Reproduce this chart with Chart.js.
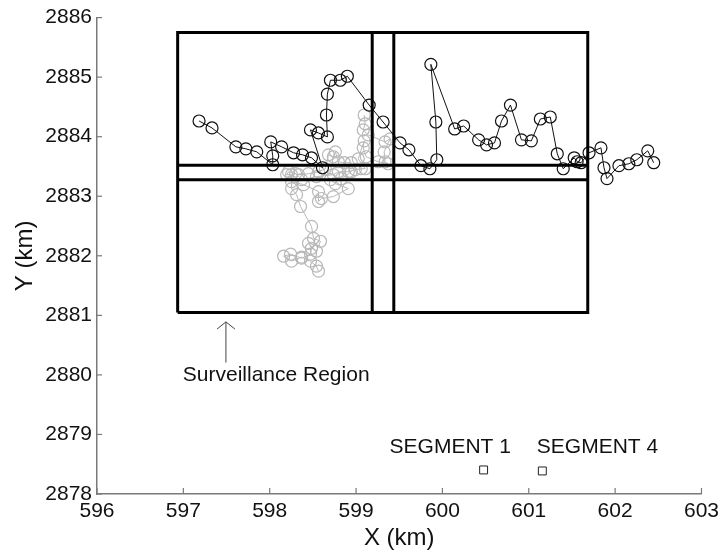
<!DOCTYPE html>
<html>
<head>
<meta charset="utf-8">
<script src="https://cdn.jsdelivr.net/npm/chart.js@4"></script>
<style>
  html, body { margin: 0; padding: 0; background: #fff; }
  #wrap { width: 724px; height: 553px; }
</style>
</head>
<body>
<div id="wrap"><canvas id="chart"></canvas></div>
<script>
// axes
const xTicks = [596, 597, 598, 599, 600, 601, 602, 603];
const yTicks = [2878, 2879, 2880, 2881, 2882, 2883, 2884, 2885, 2886];

// black track (km)
const blackX = [597.182, 597.332, 597.608, 597.724, 597.850, 598.035, 598.035, 598.012, 598.138, 598.276,
  598.380, 598.484, 598.611, 598.472, 598.564, 598.668, 598.657, 598.668, 598.703, 598.818,
  598.899, 599.152, 599.313, 599.509, 599.612, 599.751, 599.855, 599.935, 599.924, 599.866,
  600.142, 600.246, 600.419, 600.511, 600.603, 600.684, 600.788, 600.915, 601.030, 601.134,
  601.249, 601.330, 601.399, 601.526, 601.560, 601.606, 601.698, 601.836, 601.871, 601.906,
  602.044, 602.159, 602.251, 602.378, 602.447];
const blackY = [2884.264, 2884.147, 2883.830, 2883.796, 2883.746, 2883.529, 2883.679, 2883.913, 2883.830, 2883.730,
  2883.696, 2883.646, 2883.479, 2884.114, 2884.063, 2883.997, 2884.364, 2884.715, 2884.948, 2884.948,
  2885.015, 2884.531, 2884.247, 2883.896, 2883.780, 2883.513, 2883.462, 2883.613, 2884.247, 2885.215,
  2884.130, 2884.180, 2883.947, 2883.863, 2883.896, 2884.264, 2884.531, 2883.947, 2883.930, 2884.297,
  2884.331, 2883.713, 2883.462, 2883.646, 2883.579, 2883.563, 2883.730, 2883.813, 2883.479, 2883.296,
  2883.513, 2883.546, 2883.613, 2883.763, 2883.563];

// gray track (km)
const grayX = [599.094, 599.106, 599.083, 599.141, 599.336, 599.394, 599.325, 599.336, 599.371, 599.256,
  599.118, 599.083, 599.094, 599.025, 599.106, 599.060, 598.991, 598.910, 598.945, 598.864,
  598.795, 598.760, 598.737, 598.680, 598.645, 598.565, 598.449, 598.334, 598.219, 598.196,
  598.253, 598.300, 598.369, 598.541, 598.737, 598.795, 598.945, 598.829, 598.703, 598.760,
  598.910, 598.737, 598.599, 598.565, 598.565, 598.392, 598.253, 598.253, 598.311, 598.357,
  598.484, 598.507, 598.588, 598.541, 598.449, 598.484, 598.472, 598.369, 598.242, 598.161,
  598.253, 598.369, 598.472, 598.541, 598.565];
const grayY = [2884.364, 2884.214, 2884.114, 2884.030, 2883.913, 2883.963, 2883.746, 2883.579, 2883.546, 2883.579,
  2883.663, 2883.813, 2883.930, 2883.629, 2883.462, 2883.462, 2883.446, 2883.412, 2883.563, 2883.563,
  2883.579, 2883.746, 2883.663, 2883.696, 2883.462, 2883.412, 2883.379, 2883.362, 2883.412, 2883.362,
  2883.362, 2883.379, 2883.279, 2883.329, 2883.362, 2883.412, 2883.412, 2883.295, 2883.279, 2883.212,
  2883.129, 2882.995, 2882.962, 2882.912, 2883.078, 2883.195, 2883.245, 2883.129, 2883.028, 2882.828,
  2882.494, 2882.294, 2882.244, 2882.077, 2882.210, 2882.127, 2882.027, 2881.960, 2882.027, 2881.993,
  2881.910, 2881.977, 2881.910, 2881.826, 2881.743];

// surveillance region
const regionX = [596.934, 601.683];
const regionY = [2881.047, 2885.750];
const stripX = [599.187, 599.437];
const stripY = [2883.279, 2883.521];

// arrow and segment markers
const arrowX = [597.493, 597.493];
const arrowY = [2880.207, 2880.890];
const arrowHeadX = [597.39, 597.493, 597.597];
const arrowHeadY = [2880.77, 2880.890, 2880.77];
const segmentX = [600.477, 601.157];
const segmentY = [2878.404, 2878.387];

// text notes
const noteText = ['Surveillance Region', 'SEGMENT 1', 'SEGMENT 4'];
const noteX = [598.075, 600.091, 601.796];
const noteY = [2879.990, 2878.793, 2878.793];

const FONT = '"Liberation Sans", Arial, sans-serif';
const AXIS_COLOR = '#7a7a7a';

const pts = (xs, ys) => xs.map((v, i) => ({ x: v, y: ys[i] }));

function rectLine(data) {
  return {
    data: data, showLine: true, borderColor: '#000', borderWidth: 3,
    pointRadius: 0, fill: false, tension: 0
  };
}

// inner tick marks + free text
const overlay = {
  id: 'overlay',
  afterDraw(chart) {
    const { ctx, scales: { x, y } } = chart;
    ctx.save();
    ctx.strokeStyle = AXIS_COLOR;
    ctx.lineWidth = 1.2;
    xTicks.forEach(v => {
      const px = x.getPixelForValue(v);
      ctx.beginPath(); ctx.moveTo(px, y.bottom); ctx.lineTo(px, y.bottom - 6); ctx.stroke();
    });
    yTicks.forEach(v => {
      const py = y.getPixelForValue(v);
      ctx.beginPath(); ctx.moveTo(x.left, py); ctx.lineTo(x.left + 5, py); ctx.stroke();
    });
    ctx.fillStyle = '#111';
    ctx.font = '21px ' + FONT;
    ctx.textAlign = 'center';
    ctx.textBaseline = 'middle';
    noteText.forEach((s, i) => {
      ctx.fillText(s, x.getPixelForValue(noteX[i]), y.getPixelForValue(noteY[i]));
    });
    ctx.restore();
  }
};

new Chart(document.getElementById('chart'), {
  type: 'scatter',
  data: {
    datasets: [
      rectLine(pts([regionX[0], regionX[1], regionX[1], regionX[0], regionX[0]],
                   [regionY[0], regionY[0], regionY[1], regionY[1], regionY[0]])),
      rectLine(pts([stripX[0], stripX[0]], regionY)),
      rectLine(pts([stripX[1], stripX[1]], regionY)),
      rectLine(pts(regionX, [stripY[0], stripY[0]])),
      rectLine(pts(regionX, [stripY[1], stripY[1]])),
      {
        data: pts(arrowX, arrowY), showLine: true, borderColor: '#444', borderWidth: 1,
        pointRadius: 0
      },
      {
        data: pts(arrowHeadX, arrowHeadY), showLine: true, borderColor: '#444', borderWidth: 1,
        pointRadius: 0
      },
      {
        data: pts(segmentX, segmentY), showLine: false, pointStyle: 'rect', pointRadius: 5.6,
        borderColor: '#222', borderWidth: 1, backgroundColor: 'rgba(0,0,0,0)'
      },
      {
        data: pts(blackX, blackY), showLine: true, borderColor: '#111', borderWidth: 1,
        pointRadius: 6, pointBorderWidth: 1.2, pointBorderColor: '#111',
        pointBackgroundColor: 'rgba(0,0,0,0)', tension: 0
      },
      {
        data: pts(grayX, grayY), showLine: true, borderColor: '#b8b8b8', borderWidth: 1,
        pointRadius: 6, pointBorderWidth: 1.2, pointBorderColor: '#b8b8b8',
        pointBackgroundColor: 'rgba(0,0,0,0)', tension: 0
      }
    ]
  },
  options: {
    responsive: true,
    maintainAspectRatio: false,
    animation: false,
    layout: { padding: { top: 15, right: 19, left: 0, bottom: 0 } },
    plugins: { legend: { display: false }, tooltip: { enabled: false } },
    scales: {
      x: {
        type: 'linear', min: 596, max: 603,
        afterBuildTicks: s => { s.ticks = xTicks.map(v => ({ value: v })); },
        afterFit: s => { s.height = 59; },
        grid: { display: false, drawTicks: false },
        border: { display: true, color: AXIS_COLOR, width: 1.5 },
        ticks: { color: '#111', padding: 5, font: { family: FONT, size: 21 }, callback: v => String(v) },
        title: { display: true, text: 'X (km)', color: '#111', padding: { top: 0, bottom: 1 },
                 font: { family: FONT, size: 24, lineHeight: 1.1 } }
      },
      y: {
        type: 'linear', min: 2878, max: 2886,
        afterBuildTicks: s => { s.ticks = yTicks.map(v => ({ value: v })); },
        afterFit: s => { s.width = 97; },
        grid: { display: false, drawTicks: false },
        border: { display: true, color: AXIS_COLOR, width: 1.5 },
        ticks: { color: '#111', padding: 5, font: { family: FONT, size: 21 }, callback: v => String(v) },
        title: { display: true, text: 'Y (km)', color: '#111', padding: { top: 12, bottom: 0 },
                 font: { family: FONT, size: 24, lineHeight: 1.1 } }
      }
    }
  },
  plugins: [overlay]
});
</script>
</body>
</html>
